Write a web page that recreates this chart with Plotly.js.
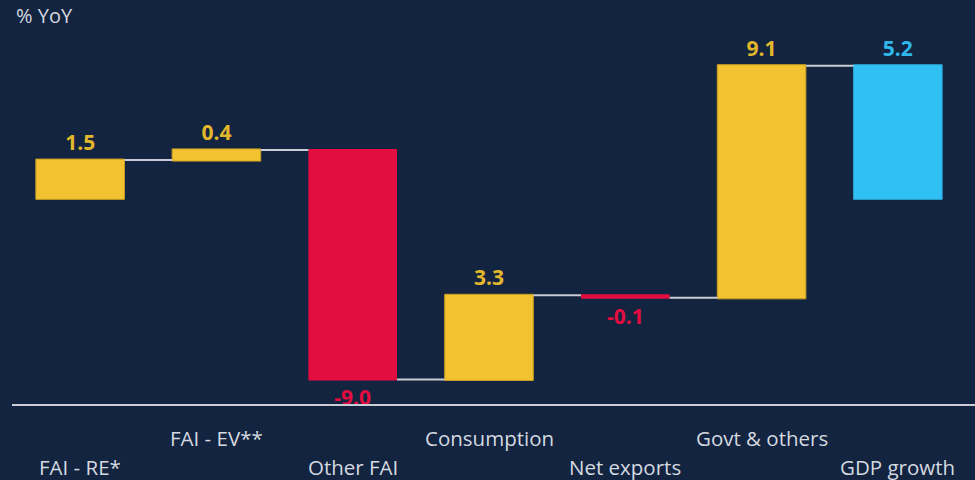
<!DOCTYPE html>
<html><head><meta charset="utf-8">
<script src="https://cdn.plot.ly/plotly-3.0.1.min.js"></script>
<style>html,body{margin:0;padding:0;background:#12243f;}</style>
</head><body>
<div id="chart" style="width:975px;height:480px;"></div>
<script>
const categories = ["FAI - RE*", "FAI - EV**", "Other FAI", "Consumption", "Net exports", "Govt & others", "GDP growth"];
const values = [1.5, 0.4, -9.0, 3.3, -0.1, 9.1, 5.2];
const measures = ["relative", "relative", "relative", "relative", "relative", "relative", "total"];
const labelRow = [1, 0, 1, 0, 1, 0, 1]; // 0 = upper row, 1 = lower row

const YELLOW = "#f2c230", RED = "#e30d40", CYAN = "#30c0f4";
const labelColors = values.map((v, i) => measures[i] === "total" ? "#2fb8ea" : (v < 0 ? RED : "#e3b72b"));
const FONT = "'Open Sans', sans-serif";

const trace = {
  type: "waterfall",
  x: categories,
  y: values,
  measure: measures,
  text: values.map(v => v.toFixed(1)),
  textposition: "outside",
  textfont: {family: FONT, size: 21, color: labelColors, weight: "bold"},
  cliponaxis: false,
  constraintext: "none",
  width: 0.65,
  increasing: {marker: {color: YELLOW, line: {color: "#c9a020", width: 1}}},
  decreasing: {marker: {color: RED, line: {color: RED, width: 0}}},
  totals: {marker: {color: CYAN, line: {color: "#2aa6d6", width: 1}}},
  connector: {line: {color: "#c9ccd4", width: 2}},
  hoverinfo: "none"
};

const annotations = categories.map((c, i) => ({
  x: c, xref: "x", y: labelRow[i] === 0 ? -0.088 : -0.166, yref: "paper",
  text: c, showarrow: false, xanchor: "center", yanchor: "middle",
  font: {family: FONT, size: 20.5, color: "#d5d9e0"}
}));

const layout = {
  width: 975, height: 480,
  paper_bgcolor: "#12243f", plot_bgcolor: "#12243f",
  margin: {l: 12, r: 9, t: 30, b: 75},
  showlegend: false,
  title: {text: "% YoY", x: 16/975, xanchor: "left", y: 1 - 16/480, yanchor: "middle",
          font: {family: FONT, size: 20, color: "#d5d9e0"}},
  xaxis: {showline: false, showticklabels: false,
          ticks: "", showgrid: false, zeroline: false, fixedrange: true},
  yaxis: {range: [-8.1, 6.6], showgrid: false, zeroline: false, showticklabels: false,
          showline: false, ticks: "", fixedrange: true},
  shapes: [{type: "line", xref: "paper", yref: "paper", x0: 0, x1: 1.0095, y0: 0, y1: 0,
            line: {color: "#c9ccd4", width: 2}}],
  annotations: annotations
};

Plotly.newPlot("chart", [trace], layout, {displayModeBar: false, staticPlot: true});
</script>
</body></html>
